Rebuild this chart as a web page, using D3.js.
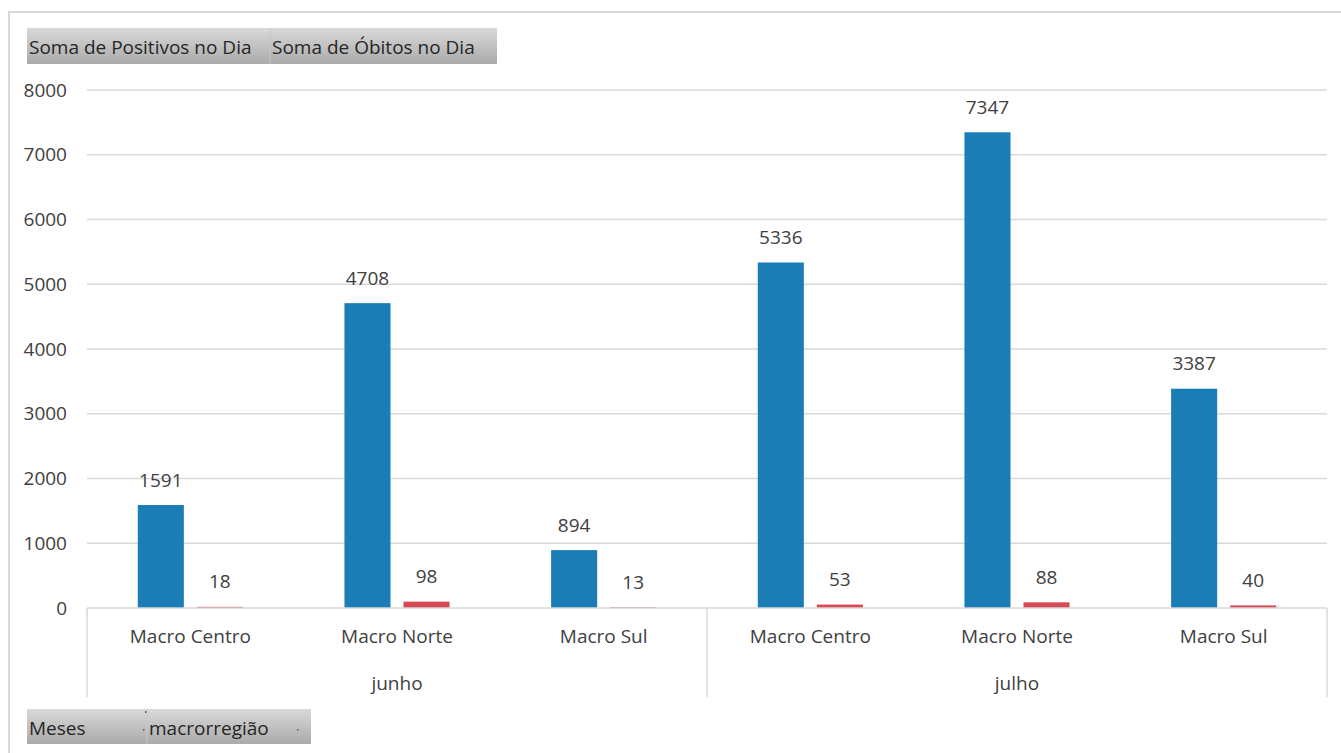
<!DOCTYPE html>
<html><head><meta charset="utf-8">
<script src="https://cdn.jsdelivr.net/npm/d3@7"></script>
<style>
html,body{margin:0;padding:0;background:#fff;}
svg{display:block;font-family:"Open Sans",sans-serif;}
</style></head>
<body>
<svg id="chart" width="1341" height="753"></svg>
<script>
const months = ["junho", "julho"];
const regions = ["Macro Centro", "Macro Norte", "Macro Sul"];
const seriesNames = ["Soma de Positivos no Dia", "Soma de Óbitos no Dia"];
const positivos = [1591, 4708, 894, 5336, 7347, 3387];
const obitos = [18, 98, 13, 53, 88, 40];
const yTicks = [0, 1000, 2000, 3000, 4000, 5000, 6000, 7000, 8000];
const filterButtons = ["Meses", "macrorregião"];

(function () {
const colors = ["#1b7db5", "#d64a53"];
const textColor = "#404040";
const gridColor = "#d9d9d9";
const fs = 19;

const svg = d3.select("#chart");
const pLeft = 87, pRight = 1327, pTop = 90, pBottom = 608;

const cats = [];
months.forEach(m => regions.forEach(r => cats.push(m + "|" + r)));

const x = d3.scaleBand().domain(cats).range([pLeft, pRight]).paddingInner(0).paddingOuter(0);
const xs = d3.scaleBand().domain([0, 1]).range([0, x.bandwidth()]).paddingInner(0.22).paddingOuter(0.86);
const y = d3.scaleLinear().domain([0, 8000]).range([pBottom, pTop]);

const defs = svg.append("defs");
const g1 = defs.append("linearGradient").attr("id", "btn").attr("x1", 0).attr("y1", 0).attr("x2", 0).attr("y2", 1);
g1.append("stop").attr("offset", "0%").attr("stop-color", "#d9d9d9");
g1.append("stop").attr("offset", "100%").attr("stop-color", "#aaaaaa");

// outer frame
svg.append("line").attr("x1", 8).attr("x2", 1341).attr("y1", 12).attr("y2", 12).attr("stroke", gridColor).attr("stroke-width", 2);
svg.append("line").attr("x1", 9).attr("x2", 9).attr("y1", 12).attr("y2", 753).attr("stroke", gridColor).attr("stroke-width", 2);

// gridlines
svg.append("g").selectAll("line").data(yTicks.filter(d => d > 0)).join("line")
  .attr("x1", pLeft).attr("x2", pRight)
  .attr("y1", d => y(d)).attr("y2", d => y(d))
  .attr("stroke", gridColor).attr("stroke-width", 1.5);

// y axis labels
const yAxis = d3.axisLeft(y).tickValues(yTicks).tickSize(0).tickPadding(20).tickFormat(d3.format("d"));
const ya = svg.append("g").attr("transform", `translate(${pLeft},0)`).call(yAxis);
ya.select(".domain").remove();
ya.selectAll("text").attr("fill", textColor).attr("font-size", fs).attr("font-family", "Open Sans");

// bars
const data = cats.map((c, i) => ({c, vals: [positivos[i], obitos[i]]}));
const groups = svg.append("g").selectAll("g").data(data).join("g")
  .attr("transform", d => `translate(${x(d.c)},0)`);
groups.selectAll("rect").data(d => d.vals.map((v, k) => ({v, k}))).join("rect")
  .attr("x", d => xs(d.k)).attr("width", xs.bandwidth())
  .attr("y", d => y(d.v)).attr("height", d => y(0) - y(d.v))
  .attr("fill", d => colors[d.k]);
groups.selectAll("text").data(d => d.vals.map((v, k) => ({v, k}))).join("text")
  .attr("x", d => xs(d.k) + xs.bandwidth() / 2)
  .attr("y", d => y(d.v) - 25)
  .attr("dy", "0.35em")
  .attr("text-anchor", "middle").attr("font-size", fs).attr("fill", textColor)
  .text(d => d.v);

// x axis line
svg.append("line").attr("x1", pLeft).attr("x2", pRight).attr("y1", pBottom).attr("y2", pBottom)
  .attr("stroke", gridColor).attr("stroke-width", 1.5);

// category labels
const xAxis = d3.axisBottom(x).tickSize(0).tickPadding(22).tickFormat(d => d.split("|")[1]);
const xa = svg.append("g").attr("transform", `translate(0,${pBottom})`).call(xAxis);
xa.select(".domain").remove();
xa.selectAll("text").attr("fill", textColor).attr("font-size", fs).attr("font-family", "Open Sans");

// month dividers and labels
const monthX = d3.scaleBand().domain(months).range([pLeft, pRight]);
const dividers = [pLeft, ...months.map(m => monthX(m) + monthX.bandwidth())];
svg.append("g").selectAll("line").data(dividers).join("line")
  .attr("x1", d => d).attr("x2", d => d).attr("y1", pBottom).attr("y2", 697)
  .attr("stroke", gridColor).attr("stroke-width", 1.5);
svg.append("g").selectAll("text").data(months).join("text")
  .attr("x", d => monthX(d) + monthX.bandwidth() / 2).attr("y", 683).attr("dy", "0.35em")
  .attr("text-anchor", "middle").attr("font-size", fs).attr("fill", textColor).text(d => d);

// legend buttons
const legendX = [27, 270, 497];
seriesNames.forEach((s, i) => {
  svg.append("rect").attr("x", legendX[i]).attr("y", 28).attr("width", legendX[i + 1] - legendX[i]).attr("height", 36)
    .attr("fill", "url(#btn)");
  svg.append("text").attr("x", legendX[i] + 2).attr("y", 47).attr("dy", "0.35em")
    .attr("font-size", fs).attr("fill", "#262626").text(s);
});
svg.append("line").attr("x1", 270).attr("x2", 270).attr("y1", 28).attr("y2", 64).attr("stroke", "#c8c8c8");

// filter buttons
const fbX = [27, 147, 311];
const dotX = [143, 297];
filterButtons.forEach((s, i) => {
  svg.append("rect").attr("x", fbX[i]).attr("y", 709).attr("width", fbX[i + 1] - fbX[i]).attr("height", 35)
    .attr("fill", "url(#btn)");
  svg.append("text").attr("x", fbX[i] + 2).attr("y", 728).attr("dy", "0.35em")
    .attr("font-size", fs).attr("fill", "#262626").text(s);
  svg.append("rect").attr("x", dotX[i]).attr("y", 729).attr("width", 1.5).attr("height", 1.5).attr("fill", "#555");
});
svg.append("rect").attr("x", 145).attr("y", 711).attr("width", 1.5).attr("height", 2).attr("fill", "#555");
svg.append("line").attr("x1", 147).attr("x2", 147).attr("y1", 709).attr("y2", 744).attr("stroke", "#c8c8c8");
})();
</script>
</body></html>
